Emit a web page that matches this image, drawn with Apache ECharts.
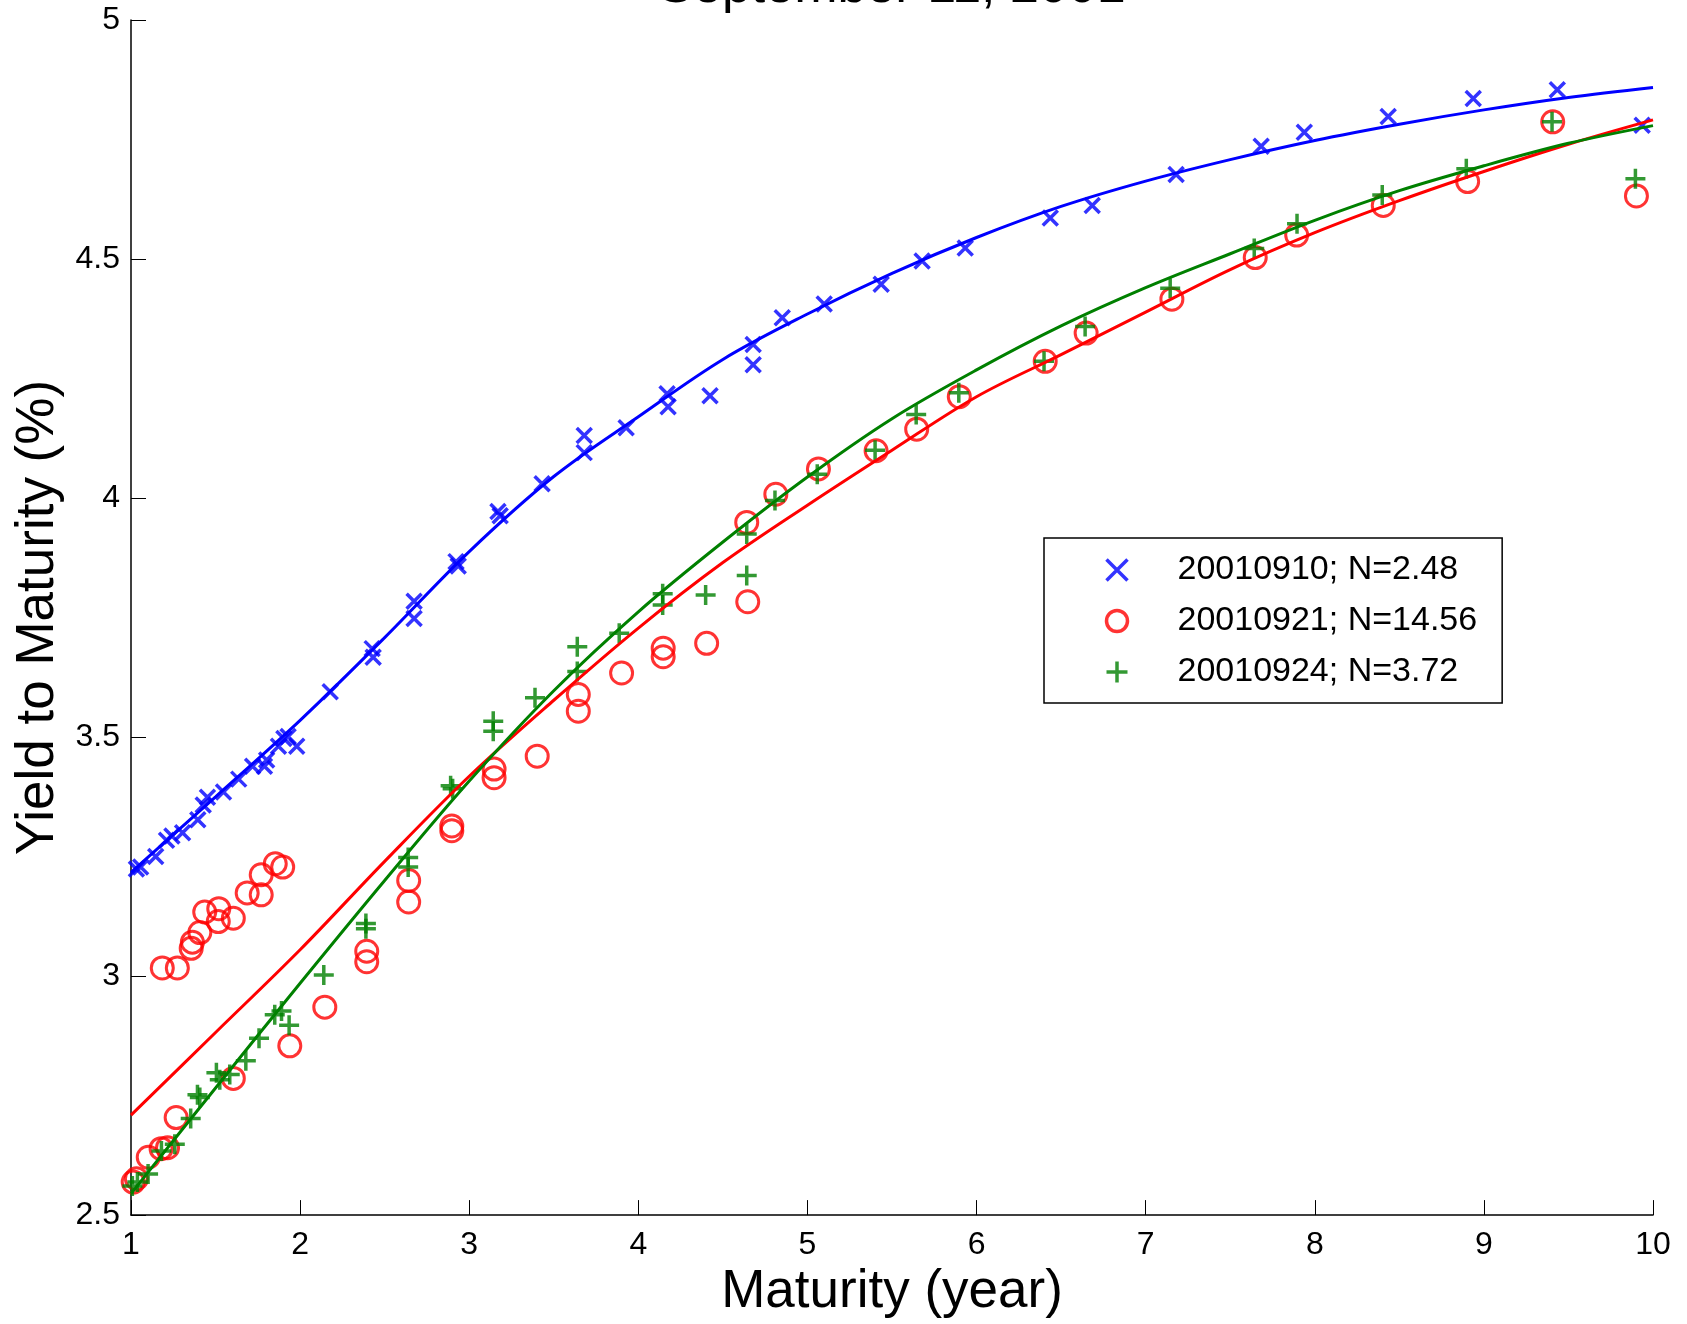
<!DOCTYPE html>
<html>
<head>
<meta charset="utf-8">
<script src="https://cdn.jsdelivr.net/npm/echarts@6/dist/echarts.min.js"></script>
<style>
  html, body { margin: 0; padding: 0; background: #fff; }
  #chart { width: 1687px; height: 1324px; }
</style>
</head>
<body>
<div id="chart"></div>
<script>
// observed yields, 2001-09-10
const maturity0910 = [1.032, 1.057, 1.146, 1.210, 1.242, 1.305, 1.395, 1.427, 1.452, 1.547, 1.637, 1.719, 1.789, 1.802, 1.872, 1.904, 1.929, 1.980, 2.178, 2.426, 2.432, 2.674, 2.674, 2.922, 2.935, 3.170, 3.183, 3.431, 3.680, 3.680, 3.928, 4.170, 4.176, 4.424, 4.679, 4.679, 4.851, 5.099, 5.436, 5.678, 5.933, 6.436, 6.684, 7.180, 7.683, 7.938, 8.434, 8.937, 9.434, 9.936];
const yield0910 = [3.224, 3.228, 3.250, 3.284, 3.293, 3.300, 3.327, 3.358, 3.374, 3.385, 3.412, 3.439, 3.439, 3.452, 3.481, 3.497, 3.501, 3.481, 3.595, 3.685, 3.667, 3.784, 3.748, 3.867, 3.858, 3.972, 3.963, 4.030, 4.131, 4.095, 4.147, 4.218, 4.191, 4.214, 4.321, 4.279, 4.377, 4.406, 4.447, 4.496, 4.523, 4.586, 4.612, 4.677, 4.736, 4.765, 4.798, 4.836, 4.854, 4.780];

// observed yields, 2001-09-21
const maturity0921 = [1.013, 1.032, 1.102, 1.178, 1.216, 1.267, 1.185, 1.274, 1.356, 1.363, 1.407, 1.436, 1.519, 1.516, 1.605, 1.687, 1.770, 1.770, 1.853, 1.897, 1.605, 1.939, 2.146, 2.394, 2.394, 2.642, 2.642, 2.897, 2.897, 3.147, 3.147, 3.402, 3.645, 3.645, 3.901, 4.147, 4.147, 4.404, 4.647, 4.641, 4.813, 5.065, 5.406, 5.646, 5.898, 6.406, 6.648, 7.155, 7.648, 7.893, 8.405, 8.904, 9.407, 9.902];
const yield0921 = [2.569, 2.576, 2.621, 2.639, 2.641, 2.704, 3.017, 3.017, 3.058, 3.071, 3.091, 3.134, 3.141, 3.114, 3.121, 3.174, 3.170, 3.212, 3.235, 3.228, 2.786, 2.854, 2.935, 3.052, 3.030, 3.200, 3.155, 3.314, 3.304, 3.433, 3.415, 3.460, 3.589, 3.554, 3.634, 3.686, 3.668, 3.696, 3.783, 3.949, 4.008, 4.061, 4.099, 4.144, 4.212, 4.286, 4.345, 4.416, 4.503, 4.550, 4.612, 4.662, 4.787, 4.632];

// observed yields, 2001-09-24
const maturity0924 = [1.008, 1.038, 1.101, 1.180, 1.259, 1.353, 1.393, 1.407, 1.505, 1.525, 1.584, 1.679, 1.757, 1.850, 1.890, 1.935, 2.140, 2.389, 2.389, 2.639, 2.639, 2.890, 2.902, 3.142, 3.142, 3.389, 3.639, 3.639, 3.887, 4.144, 4.144, 4.398, 4.641, 4.641, 4.808, 5.058, 5.400, 5.643, 5.895, 6.399, 6.642, 7.145, 7.642, 7.895, 8.399, 8.896, 9.403, 9.896];
const yield0924 = [2.561, 2.569, 2.586, 2.634, 2.648, 2.702, 2.752, 2.746, 2.798, 2.783, 2.794, 2.823, 2.870, 2.919, 2.927, 2.897, 3.002, 3.110, 3.099, 3.248, 3.228, 3.398, 3.392, 3.533, 3.512, 3.582, 3.689, 3.637, 3.717, 3.800, 3.776, 3.797, 3.925, 3.838, 3.995, 4.050, 4.100, 4.175, 4.220, 4.286, 4.359, 4.439, 4.522, 4.574, 4.634, 4.689, 4.787, 4.668];

// fitted curves
const fitMaturity = [1, 1.5, 2, 2.5, 3, 3.5, 4, 4.5, 5, 5.5, 6, 6.5, 7, 7.5, 8, 8.5, 9, 9.5, 10];
const fit0910 = [3.217, 3.375, 3.535, 3.708, 3.888, 4.045, 4.170, 4.290, 4.385, 4.470, 4.545, 4.610, 4.663, 4.708, 4.748, 4.782, 4.812, 4.838, 4.859];
const fit0921 = [2.709, 2.882, 3.055, 3.240, 3.418, 3.577, 3.728, 3.865, 3.985, 4.100, 4.212, 4.300, 4.389, 4.478, 4.555, 4.622, 4.683, 4.740, 4.791];
const fit0924 = [2.545, 2.766, 2.985, 3.200, 3.408, 3.597, 3.762, 3.908, 4.044, 4.166, 4.268, 4.360, 4.440, 4.511, 4.581, 4.643, 4.695, 4.742, 4.779];

const legendNames = ["20010910; N=2.48", "20010921; N=14.56", "20010924; N=3.72"];
const titleText = "September 11, 2001";

const FONT = "'Liberation Sans', Arial, Helvetica, sans-serif";
const BLUE = "#0000ff", RED = "#ff0000", GREEN = "#008000";

const zip = (xs, ys) => xs.map((x, i) => [x, ys[i]]);

const chart = echarts.init(document.getElementById("chart"), null, { renderer: "canvas" });

// marker shapes like matlab's 'x' and '+'
const crossPath = "path://M0,0L1,1M1,0L0,1";
const plusPath = "path://M0.5,0L0.5,1M0,0.5L1,0.5";

const scatter = (name, data, symbol, size, color, width) => ({
  name: name,
  type: "scatter",
  data: data,
  symbol: symbol,
  symbolSize: size,
  itemStyle: { color: "none", borderColor: color, borderWidth: width },
  z: 3,
});

const fitLine = (name, data, color) => ({
  name: name,
  type: "line",
  data: data,
  smooth: 0.35,
  showSymbol: false,
  symbol: "none",
  lineStyle: { color: color, width: 3 },
  z: 4,
});

const option = {
  animation: false,
  backgroundColor: "#fff",
  grid: { left: 131, right: 34, top: 20, bottom: 103 },
  graphic: [
    {
      type: "text",
      x: 892,
      y: -12,
      style: {
        text: titleText,
        font: "52px " + FONT,
        fill: "#000",
        align: "center",
        verticalAlign: "middle",
      },
    },
  ],
  legend: {
    data: legendNames,
    orient: "vertical",
    left: 1044,
    top: 538,
    padding: [15, 25, 14, 60],
    itemGap: 17,
    itemWidth: 21,
    itemHeight: 21,
    itemStyle: { borderWidth: 3.5 },
    borderColor: "#000",
    borderWidth: 1.5,
    backgroundColor: "#fff",
    textStyle: {
      fontSize: 34,
      fontFamily: FONT,
      color: "#000",
      lineHeight: 34,
      padding: [0, 0, 0, 45],
    },
  },
  xAxis: {
    type: "value",
    min: 1,
    max: 10,
    interval: 1,
    name: "Maturity (year)",
    nameLocation: "middle",
    nameGap: 40,
    nameTextStyle: { fontSize: 53, fontFamily: FONT, color: "#000" },
    axisLine: { show: true, lineStyle: { color: "#000", width: 1.5 } },
    axisTick: { show: true, inside: true, length: 15, lineStyle: { color: "#000", width: 1 } },
    axisLabel: { fontSize: 32, fontFamily: FONT, color: "#000", margin: 14 },
    splitLine: { show: false },
  },
  yAxis: {
    type: "value",
    min: 2.5,
    max: 5,
    interval: 0.5,
    name: "Yield to Maturity (%)",
    nameLocation: "middle",
    nameGap: 62,
    nameTextStyle: { fontSize: 53, fontFamily: FONT, color: "#000" },
    axisLine: { show: true, lineStyle: { color: "#000", width: 1.5 } },
    axisTick: { show: true, inside: true, length: 15, lineStyle: { color: "#000", width: 1 } },
    axisLabel: { fontSize: 32, fontFamily: FONT, color: "#000", margin: 11 },
    splitLine: { show: false },
  },
  series: [
    scatter(legendNames[0], zip(maturity0910, yield0910), crossPath, 15, BLUE, 3.5),
    scatter(legendNames[1], zip(maturity0921, yield0921), "circle", 22, RED, 3),
    scatter(legendNames[2], zip(maturity0924, yield0924), plusPath, 20, GREEN, 3.5),
    fitLine("fit 20010910", zip(fitMaturity, fit0910), BLUE),
    fitLine("fit 20010921", zip(fitMaturity, fit0921), RED),
    fitLine("fit 20010924", zip(fitMaturity, fit0924), GREEN),
  ],
};

chart.setOption(option);
</script>
</body>
</html>
